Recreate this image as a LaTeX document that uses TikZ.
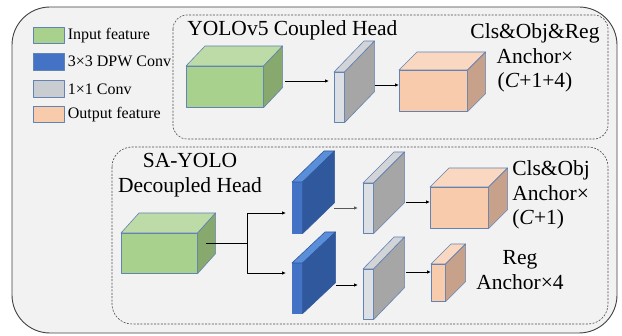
\documentclass[tikz,border=0pt]{standalone}
\usepackage{fontspec}
\setmainfont{Liberation Serif}
\usetikzlibrary{arrows.meta,calc}

\definecolor{bg}{HTML}{F2F2F2}
\definecolor{edge}{HTML}{6383B3}
\definecolor{greenF}{HTML}{A9D18E}
\definecolor{greenT}{HTML}{BCDBA6}
\definecolor{greenS}{HTML}{87A96E}
\definecolor{blueF}{HTML}{4472C4}
\definecolor{blueT}{HTML}{5B8ED8}
\definecolor{blueS}{HTML}{30589C}
\definecolor{grayF}{HTML}{DCDFE4}
\definecolor{grayT}{HTML}{D2D4D8}
\definecolor{grayS}{HTML}{A6A6A6}
\definecolor{orangeF}{HTML}{F8CBAD}
\definecolor{orangeT}{HTML}{F9D7C0}
\definecolor{orangeS}{HTML}{C8A18B}

% top and side faces behind a front face node: name, dx, dy, top, side, outline
\newcommand{\cuboid}[6]{%
  \filldraw[fill=#4,draw=#6] (#1.north west) -- ++(#2,#3) -- ($(#1.north east)+(#2,#3)$) -- (#1.north east) -- cycle;
  \filldraw[fill=#5,draw=#6] (#1.north east) -- ($(#1.north east)+(#2,#3)$) -- ($(#1.south east)+(#2,#3)$) -- (#1.south east) -- cycle;
}

\begin{document}
\begin{tikzpicture}[x=1pt, y=-1pt, line width=0.6pt, line join=round,
  face/.style={draw=edge, inner sep=0pt, anchor=north west},
  swatch/.style={draw=edge, inner sep=0pt, anchor=north west, minimum width=31pt},
  key/.style={anchor=west, inner sep=0pt, font=\fontsize{16}{18}\selectfont},
  big/.style={inner sep=0pt, font=\fontsize{21.5}{24.5}\selectfont},
  frame/.style={draw=black!70, dash pattern=on 2pt off 1.4pt, line width=0.6pt},
  arr/.style={-{Latex[length=4pt,width=3.5pt]}, line width=0.8pt}]
\useasboundingbox (0,0) rectangle (622,336);
\draw[fill=bg, draw=black!75, line width=0.9pt, rounded corners=38pt] (12,7) rectangle (617,333);
\draw[frame, rounded corners=14pt] (173,15) rectangle (608,139);
\draw[frame, rounded corners=20pt] (112,147) rectangle (608,324);

% legend
\begin{scope}
\node[swatch, fill=greenF, minimum height=16pt] (k1) at (33,27) {};
\node[swatch, fill=blueF, minimum height=17pt] (k2) at (33,53) {};
\node[swatch, fill=grayF!80!gray, minimum height=17pt] (k3) at (33,80) {};
\node[swatch, fill=orangeF, minimum height=16pt] (k4) at (33,106) {};
\node[key] at ([xshift=3pt]k1.east) {Input feature};
\node[key] at ([xshift=3pt]k2.east) {3×3 DPW Conv};
\node[key] at ([xshift=3pt]k3.east) {1×1 Conv};
\node[key] at ([xshift=3pt]k4.east) {Output feature};
\end{scope}

% coupled head
\begin{scope}
\node[big, anchor=west] (t1) at (187,30) {YOLOv5 Coupled Head};
\node[face, fill=greenF, minimum width=77pt, minimum height=41pt] (in1) at (186,66) {};
\cuboid{in1}{19}{-20}{greenT}{greenS}{edge}
\node[face, fill=grayF, minimum width=10pt, minimum height=50pt] (cv1) at (334,72) {};
\cuboid{cv1}{30}{-31}{grayT}{grayS}{edge}
\node[face, fill=orangeF, minimum width=68pt, minimum height=41pt] (out1) at (399,70) {};
\cuboid{out1}{18}{-18}{orangeT}{orangeS}{edge}
\node[big, align=center] (r1) at (535,58) {Cls\&Obj\&Reg\\Anchor×\\(\textit{C}+1+4)};
\coordinate (a1) at (285,81);
\coordinate (a2) at (375,85);
\draw[arr, shorten >=5pt] (a1) -- (a1 -| cv1.west);
\draw[arr] (a2) -- (a2 -| out1.west);
\end{scope}

% decoupled head
\begin{scope}
\node[big, align=center] (t2) at (190,175) {SA-YOLO\\Decoupled Head};
\node[face, fill=greenF, minimum width=76pt, minimum height=40pt] (in2) at (121,233) {};
\cuboid{in2}{18}{-20}{greenT}{greenS}{edge}
\node[face, draw=blueF, fill=blueF, minimum width=10pt, minimum height=51pt] (dw1) at (292,182) {};
\cuboid{dw1}{32}{-31}{blueT}{blueS}{blueS}
\node[face, draw=blueF, fill=blueF, minimum width=10pt, minimum height=50pt] (dw2) at (292,263) {};
\cuboid{dw2}{33}{-31}{blueT}{blueS}{blueS}
\node[face, fill=grayF, minimum width=10pt, minimum height=50pt] (cv2) at (363,183) {};
\cuboid{cv2}{31}{-31}{grayT}{grayS}{edge}
\node[face, fill=grayF, minimum width=10pt, minimum height=50pt] (cv3) at (363,269) {};
\cuboid{cv3}{31}{-32}{grayT}{grayS}{edge}
\node[face, fill=orangeF, minimum width=58pt, minimum height=41pt] (out2) at (430,187) {};
\cuboid{out2}{19}{-19}{orangeT}{orangeS}{edge}
\node[face, fill=orangeF, minimum width=14pt, minimum height=37pt] (out3) at (431,264) {};
\cuboid{out3}{20}{-20}{orangeT}{orangeS}{edge}
\node[big, align=left, anchor=west] (r2) at (512,195) {Cls\&Obj\\Anchor×\\(\textit{C}+1)};
\node[big, align=center] (r3) at (520,270) {Reg\\Anchor×4};
\coordinate (s1) at (206,243);
\coordinate (fork) at (247,243);
\coordinate (b1) at (247,213);
\coordinate (b2) at (247,273);
\coordinate (c1) at (334,208);
\coordinate (c2) at (336,285);
\coordinate (d1) at (406,202);
\coordinate (d2) at (406,272);
\draw[line width=0.8pt] (s1) -- (fork);
\draw[arr, shorten >=6pt] (fork) -- (b1) -- (b1 -| dw1.west);
\draw[arr, shorten >=6pt] (fork) -- (b2) -- (b2 -| dw2.west);
\draw[arr, black!65, shorten >=5pt] (c1) -- (c1 -| cv2.west);
\draw[arr, shorten >=5pt] (c2) -- (c2 -| cv3.west);
\draw[arr] (d1) -- (d1 -| out2.west);
\draw[arr] (d2) -- (d2 -| out3.west);
\end{scope}
\end{tikzpicture}
\end{document}
